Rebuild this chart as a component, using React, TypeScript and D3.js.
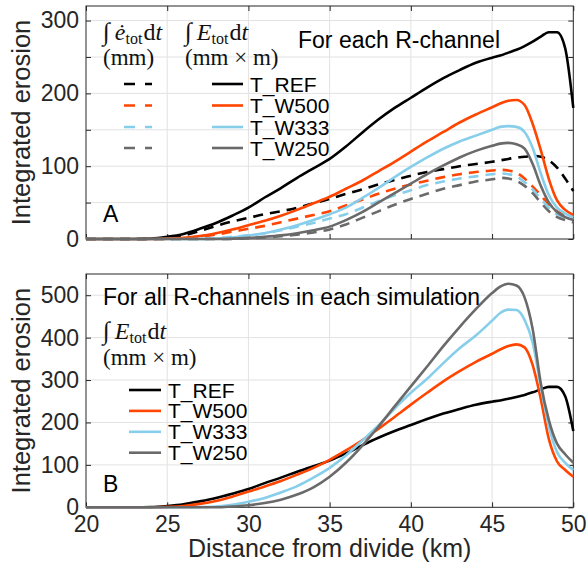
import React, { useEffect, useRef } from 'react';
import * as d3 from 'd3';

// distance from divide (km), finer sampling near the channel outlet
const distanceKm = [
  20, 21, 22, 23, 24, 25, 26, 27, 28, 29, 30, 31, 32, 33, 34, 35, 36, 37, 38, 39, 40, 41, 42, 43, 44,
  45, 45.5, 46, 46.5, 47, 47.5, 48, 48.5, 49, 49.5, 50,
];

// panel A : solid = integral of E_tot (mm x m), per R-channel
const refErosion = [
  0, 0, 0, 0, 0.5, 3, 7, 14, 22, 32, 43, 57, 70, 84, 97, 110, 127, 146, 164, 180, 194, 208, 221, 232, 242,
  249, 252, 256, 260, 265, 271, 278, 284, 284, 262, 180,
];
const w500Channel = [
  0, 0, 0, 0, 0, 0.5, 1.5, 4, 8, 13, 19, 25, 32, 40, 49, 58, 69, 80, 93, 106, 120, 134, 147, 160, 171,
  181, 186, 190, 191, 184, 158, 122, 82, 53, 40, 33,
];
const w333Channel = [
  0, 0, 0, 0, 0, 0, 0, 0, 0.5, 2, 5, 8, 13, 19, 26, 34, 43, 56, 70, 85, 99, 112, 124, 134, 142,
  150, 154, 155, 154, 147, 125, 90, 60, 43, 35, 30,
];
const w250Channel = [
  0, 0, 0, 0, 0, 0, 0, 0, 0, 0.5, 1.5, 3, 5, 8, 12, 17, 26, 37, 50, 63, 76, 89, 101, 112, 121,
  128, 131, 132, 130, 124, 103, 73, 50, 37, 30, 26,
];

// panel A : dashed = integral of e_tot (mm)
const refDash = [
  0, 0, 0, 0, 0, 1, 5, 11, 18, 24, 29, 34, 38, 43, 49, 55, 62, 68, 75, 81, 87, 92, 96, 100, 103,
  106, 108, 110, 112, 113, 114, 113, 108, 98, 83, 66,
];
const w500Dash = [
  0, 0, 0, 0, 0, 0, 1, 3, 6, 10, 14, 18, 23, 28, 33, 38, 46, 54, 62, 69, 75, 80, 85, 89, 92,
  94, 95, 94, 91, 83, 72, 60, 47, 38, 34, 31,
];
const w333Dash = [
  0, 0, 0, 0, 0, 0, 0, 0, 1, 3, 5, 8, 12, 17, 22, 28, 34, 43, 52, 60, 67, 74, 79, 83, 86,
  89, 90, 89, 86, 78, 68, 55, 43, 34, 30, 27,
];
const w250Dash = [
  0, 0, 0, 0, 0, 0, 0, 0, 0, 0, 1, 2, 4, 6, 9, 13, 20, 29, 38, 47, 55, 62, 69, 74, 79,
  82, 84, 83, 80, 73, 63, 50, 38, 30, 26, 23,
];

// panel B : all R-channels of each simulation
const w500All = [
  0, 0, 0, 0, 0, 1, 3, 8, 15, 25, 37, 49, 62, 77, 93, 112, 134, 158, 185, 213, 242, 270, 297, 321, 343,
  362, 372, 380, 384, 377, 335, 255, 160, 108, 88, 72,
];
const w333All = [
  0, 0, 0, 0, 0, 0, 0, 0.5, 2, 6, 13, 22, 35, 50, 70, 93, 122, 157, 193, 233, 270, 303, 340, 375, 405,
  440, 458, 466, 465, 442, 388, 284, 190, 130, 105, 88,
];
const w250All = [
  0, 0, 0, 0, 0, 0, 0, 0, 0, 2, 5, 10, 18, 30, 47, 72, 105, 145, 190, 238, 285, 332, 380, 425, 467,
  505, 520, 527, 523, 495, 420, 292, 205, 150, 125, 105,
];

const seriesNames = ['T_REF', 'T_W500', 'T_W333', 'T_W250'];
const seriesColors = ['#000000', '#ff4500', '#87ceeb', '#6a6a6a'];

const xTicks = [20, 25, 30, 35, 40, 45, 50];
const yTicksA = [0, 50, 100, 150, 200, 250, 300];
const yLabelsA = [0, 100, 200, 300];
const yTicksB = [0, 100, 200, 300, 400, 500];

const SANS = '"Liberation Sans", Arial, Helvetica, sans-serif';
const SERIF = '"Liberation Serif", "Times New Roman", serif';
const AXIS_COLOR = '#262626';
const GRID_COLOR = '#e2e2e2';

const App = () => {
  const ref = useRef<SVGSVGElement>(null);

  useEffect(() => {
    const svg = d3.select(ref.current);
    svg.selectAll('*').remove();

    const left = 86;
    const right = 573.3;
    const x = d3.scaleLinear().domain([20, 50]).range([left, right]);

    const drawPanel = (top: number, bottom: number, yMax: number, yTicks: number[], yLabels: number[], showX: boolean) => {
      const y = d3.scaleLinear().domain([0, yMax]).range([bottom, top]);
      const g = svg.append('g');

      // grid
      g.selectAll('.gx')
        .data(xTicks.slice(1, -1))
        .enter()
        .append('line')
        .attr('x1', d => x(d)).attr('x2', d => x(d))
        .attr('y1', top).attr('y2', bottom)
        .attr('stroke', GRID_COLOR).attr('stroke-width', 1);
      g.selectAll('.gy')
        .data(yTicks.slice(1))
        .enter()
        .append('line')
        .attr('x1', left).attr('x2', right)
        .attr('y1', d => y(d)).attr('y2', d => y(d))
        .attr('stroke', GRID_COLOR).attr('stroke-width', 1);

      // axes, ticks pointing inwards
      const styleAxis = (a: any) => {
        a.select('.domain').remove();
        a.selectAll('line').attr('stroke', AXIS_COLOR);
        a.attr('font-family', SANS).attr('font-size', 23);
        a.selectAll('text').attr('fill', AXIS_COLOR);
      };
      g.append('g')
        .attr('transform', `translate(${left},0)`)
        .call(d3.axisLeft(y).tickValues(yTicks).tickSize(-5).tickPadding(7)
          .tickFormat(d => (yLabels.includes(+d) ? String(d) : '')))
        .call(styleAxis);
      g.append('g')
        .attr('transform', `translate(${right},0)`)
        .call(d3.axisRight(y).tickValues(yTicks).tickSize(-5).tickFormat(() => ''))
        .call(styleAxis);
      g.append('g')
        .attr('transform', `translate(0,${bottom})`)
        .call(d3.axisBottom(x).tickValues(xTicks).tickSize(-5).tickPadding(8)
          .tickFormat(d => (showX ? String(d) : '')))
        .call(styleAxis);
      g.append('g')
        .attr('transform', `translate(0,${top})`)
        .call(d3.axisTop(x).tickValues(xTicks).tickSize(-5).tickFormat(() => ''))
        .call(styleAxis);

      g.append('rect')
        .attr('x', left).attr('y', top)
        .attr('width', right - left).attr('height', bottom - top)
        .attr('fill', 'none').attr('stroke', AXIS_COLOR).attr('stroke-width', 1);

      g.append('text')
        .attr('transform', `translate(30,${(top + bottom) / 2}) rotate(-90)`)
        .attr('text-anchor', 'middle')
        .attr('font-family', SANS).attr('font-size', 25.5).attr('fill', AXIS_COLOR)
        .text('Integrated erosion');

      const line = d3.line<number>()
        .x((_, i) => x(distanceKm[i]))
        .y(d => y(d))
        .curve(d3.curveMonotoneX);

      return { g, y, line };
    };

    const addLines = (g: any, line: any, series: number[][], dashed: boolean) => {
      series.forEach((s, i) => {
        g.append('path')
          .attr('d', line(s))
          .attr('fill', 'none')
          .attr('stroke', seriesColors[i])
          .attr('stroke-width', 2.6)
          .attr('stroke-linejoin', 'round')
          .attr('stroke-dasharray', dashed ? '10,7' : null);
      });
    };

    // TeX-like integral label, e.g.  ∫ ė_tot dt
    const addIntegral = (g: any, px: number, py: number, dotted: boolean) => {
      const t = g.append('text')
        .attr('x', px).attr('y', py)
        .attr('font-family', SERIF).attr('font-size', 24).attr('fill', '#111');
      t.append('tspan').attr('font-size', 25).attr('font-style', 'italic').text('\u222B');
      t.append('tspan').attr('dx', 5).attr('font-style', 'italic').text(dotted ? '\u0117' : 'E');
      t.append('tspan').attr('font-size', 16).attr('dy', 4).text('tot');
      t.append('tspan').attr('dy', -4).attr('dx', 1).text('d');
      t.append('tspan').attr('font-style', 'italic').text('t');
    };

    const addUnit = (g: any, px: number, py: number, label: string) => {
      g.append('text')
        .attr('x', px).attr('y', py)
        .attr('font-family', SERIF).attr('font-size', 23).attr('fill', '#111')
        .text(label);
    };

    const addText = (g: any, px: number, py: number, label: string, size: number) => {
      g.append('text')
        .attr('x', px).attr('y', py)
        .attr('font-family', SANS).attr('font-size', size).attr('fill', '#000')
        .text(label);
    };

    // ---- panel A
    const A = drawPanel(6, 239, 320, yTicksA, yLabelsA, false);
    addLines(A.g, A.line, [refDash, w500Dash, w333Dash, w250Dash], true);
    addLines(A.g, A.line, [refErosion, w500Channel, w333Channel, w250Channel], false);

    addIntegral(A.g, 103, 40, true);
    addUnit(A.g, 103, 65, '(mm)');
    addIntegral(A.g, 185, 40, false);
    addUnit(A.g, 185, 65, '(mm \u00D7 m)');
    addText(A.g, 298, 48, 'For each R-channel', 23);
    addText(A.g, 103, 222, 'A', 23);

    const rowsA = [84, 105.5, 127, 148];
    seriesNames.forEach((name, i) => {
      A.g.append('line')
        .attr('x1', 124).attr('x2', 152).attr('y1', rowsA[i]).attr('y2', rowsA[i])
        .attr('stroke', seriesColors[i]).attr('stroke-width', 2.6)
        .attr('stroke-dasharray', '11,10');
      A.g.append('line')
        .attr('x1', 212).attr('x2', 243).attr('y1', rowsA[i]).attr('y2', rowsA[i])
        .attr('stroke', seriesColors[i]).attr('stroke-width', 2.6);
      addText(A.g, 250, rowsA[i] + 7.5, name, 21);
    });

    // ---- panel B
    const B = drawPanel(274, 507.3, 550, yTicksB, yTicksB, true);
    addLines(B.g, B.line, [refErosion, w500All, w333All, w250All], false);

    addText(B.g, 103, 305, 'For all R-channels in each simulation', 23);
    addIntegral(B.g, 103, 339, false);
    addUnit(B.g, 103, 365, '(mm \u00D7 m)');
    addText(B.g, 103, 492, 'B', 23);

    const rowsB = [390, 410.9, 431.8, 452.7];
    seriesNames.forEach((name, i) => {
      B.g.append('line')
        .attr('x1', 129).attr('x2', 161).attr('y1', rowsB[i]).attr('y2', rowsB[i])
        .attr('stroke', seriesColors[i]).attr('stroke-width', 2.6);
      addText(B.g, 168, rowsB[i] + 7.5, name, 21);
    });

    svg.append('text')
      .attr('x', (left + right) / 2).attr('y', 557)
      .attr('text-anchor', 'middle')
      .attr('font-family', SANS).attr('font-size', 25).attr('fill', AXIS_COLOR)
      .text('Distance from divide (km)');
  }, []);

  return (
    <svg
      ref={ref}
      width={587}
      height={566}
      style={{ position: 'absolute', left: 0, top: 0, background: '#fff' }}
    />
  );
};

export default App;
